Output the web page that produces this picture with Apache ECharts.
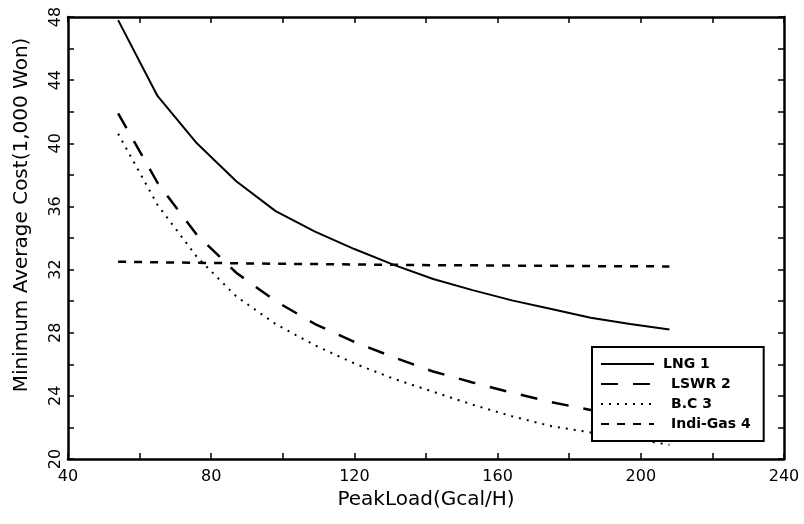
<!DOCTYPE html>
<html><head><meta charset="utf-8">
<script src="https://cdn.jsdelivr.net/npm/echarts@6/dist/echarts.min.js"></script>
<style>html,body{margin:0;padding:0;background:#fff}#c{width:804px;height:524px}</style>
</head><body><div id="c"></div>
<script>
const peakLoad = [54, 65, 76, 87, 98, 109, 120, 131, 142, 153, 164, 175, 186, 197, 208];
const lng    = [47.8, 43.0, 40.0, 37.6, 35.7, 34.4, 33.3, 32.3, 31.4, 30.7, 30.05, 29.5, 28.95, 28.55, 28.2];
const lswr   = [41.9, 37.5, 34.2, 31.8, 30.0, 28.55, 27.42, 26.44, 25.54, 24.85, 24.2, 23.6, 23.1, 22.7, 22.35];
const bc     = [40.6, 36.1, 32.8, 30.3, 28.55, 27.2, 26.05, 25.08, 24.26, 23.44, 22.71, 22.08, 21.68, 21.3, 20.9];
const indiGas= [32.5, 32.46, 32.43, 32.4, 32.37, 32.35, 32.32, 32.3, 32.28, 32.27, 32.25, 32.24, 32.22, 32.21, 32.2];
const seriesNames = ['LNG 1', 'LSWR 2', 'B.C 3', 'Indi-Gas 4'];
const xTicks = [40, 80, 120, 160, 200, 240];
const yTicks = [20, 24, 28, 32, 36, 40, 44, 48];

const pair = ys => peakLoad.map((x, i) => [x, ys[i]]);
const font = 'DejaVu Sans';
const axisLine = {show: true, onZero: false, lineStyle: {color: '#000', width: 2.5}};
const tick = {show: true, inside: true, length: 6, lineStyle: {color: '#000', width: 1.5}};

const chart = echarts.init(document.getElementById('c'), null, {renderer: 'canvas'});
chart.setOption({
  backgroundColor: '#fff',
  animation: false,
  grid: {left: 68, right: 20, top: 17, bottom: 65},
  legend: {
    orient: 'vertical', left: 592, top: 347,
    data: seriesNames.map((n, i) => ({name: n, textStyle: {padding: [0, 0, 0, i === 0 ? 4 : 12]}})),
    backgroundColor: '#fff', borderColor: '#000', borderWidth: 2, borderRadius: 0,
    padding: [10, 13, 10, 8], itemGap: 6, itemWidth: 53, itemHeight: 12,
    itemStyle: {color: 'rgba(0,0,0,0)', borderColor: 'rgba(0,0,0,0)', borderWidth: 0},
    textStyle: {fontFamily: font, fontWeight: 'bold', fontSize: 14, color: '#000'},
    z: 10
  },
  xAxis: [{
    type: 'value', min: 40, max: 240, interval: 20, position: 'bottom',
    name: 'PeakLoad(Gcal/H)', nameLocation: 'middle', nameGap: 27,
    nameTextStyle: {fontFamily: font, fontSize: 20, color: '#000'},
    axisLine: axisLine, axisTick: tick, splitLine: {show: false},
    axisLabel: {fontFamily: font, fontSize: 16, color: '#000', margin: 10,
      formatter: v => xTicks.includes(v) ? String(v) : ''}
  }, {
    type: 'value', min: 40, max: 240, interval: 20, position: 'top',
    axisLine: axisLine, axisTick: tick, splitLine: {show: false}, axisLabel: {show: false}
  }],
  yAxis: [{
    type: 'value', min: 20, max: 48, interval: 2, position: 'left',
    name: 'Minimum Average Cost(1,000 Won)', nameLocation: 'middle', nameGap: 36,
    nameTextStyle: {fontFamily: font, fontSize: 20, color: '#000', padding: [0, 0, 0, 46]},
    axisLine: axisLine, axisTick: tick, splitLine: {show: false},
    axisLabel: {fontFamily: font, fontSize: 16, color: '#000', rotate: 90, margin: 4,
      formatter: v => yTicks.includes(v) ? String(v) : ''}
  }, {
    type: 'value', min: 20, max: 48, interval: 2, position: 'right',
    axisLine: axisLine, axisTick: tick, splitLine: {show: false}, axisLabel: {show: false}
  }],
  series: [
    {name: seriesNames[0], type: 'line', data: pair(lng), symbol: 'none', color: '#000',
     lineStyle: {color: '#000', width: 2, type: 'solid'}},
    {name: seriesNames[1], type: 'line', data: pair(lswr), symbol: 'none', color: '#000',
     lineStyle: {color: '#000', width: 2.5, type: [17, 15]}},
    {name: seriesNames[2], type: 'line', data: pair(bc), symbol: 'none', color: '#000',
     lineStyle: {color: '#000', width: 2, type: [2, 6]}},
    {name: seriesNames[3], type: 'line', data: pair(indiGas), symbol: 'none', color: '#000',
     lineStyle: {color: '#000', width: 2.5, type: [8, 8]}}
  ]
});
</script></body></html>
